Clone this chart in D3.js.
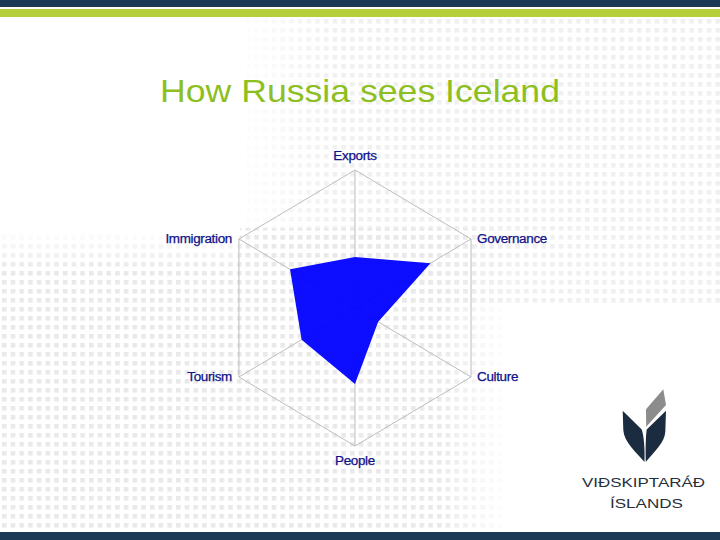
<!DOCTYPE html>
<html>
<head>
<meta charset="utf-8">
<script src="https://cdn.jsdelivr.net/npm/d3@7"></script>
<style>
  html, body { margin: 0; padding: 0; background: #ffffff; }
  svg { display: block; }
</style>
</head>
<body>
<script>
// ---- data ----
const title = "How Russia sees Iceland";
const axes = ["Exports", "Governance", "Culture", "People", "Tourism", "Immigration"];
const values = [0.37, 0.65, 0.20, 0.55, 0.46, 0.56];
const logoLine1 = "VIÐSKIPTARÁÐ";
const logoLine2 = "ÍSLANDS";

const W = 720, H = 540;
const svg = d3.select("body").append("svg").attr("width", W).attr("height", H);
const defs = svg.append("defs");

// dotted background pattern
const pat = defs.append("pattern").attr("id", "dots").attr("patternUnits", "userSpaceOnUse")
  .attr("x", 2).attr("y", 1).attr("width", 8.7).attr("height", 9);
pat.append("rect").attr("width", 4.6).attr("height", 4.6).attr("fill", "#e9e9e9");

function grad(id, x1, x2, y1, y2, stops) {
  const g = defs.append("linearGradient").attr("id", id).attr("gradientUnits", "userSpaceOnUse")
    .attr("x1", x1).attr("x2", x2).attr("y1", y1).attr("y2", y2);
  stops.forEach(s => g.append("stop").attr("offset", s[0]).attr("stop-color", "#fff").attr("stop-opacity", s[1]));
}
grad("gTop", 235, 340, 0, 0, [[0, 0], [1, 0.7]]);
grad("gBot", 0, 510, 0, 0, [[0, 1], [0.86, 1], [1, 0]]);
grad("gBotV", 0, 0, 228, 270, [[0, 0], [1, 1]]);

const m1 = defs.append("mask").attr("id", "m1");
m1.append("rect").attr("x", 235).attr("y", 17).attr("width", 485).attr("height", 288).attr("fill", "url(#gTop)");
const m2 = defs.append("mask").attr("id", "m2");
m2.append("rect").attr("x", 0).attr("y", 228).attr("width", 510).attr("height", 304).attr("fill", "url(#gBot)");
const m3 = defs.append("mask").attr("id", "m3");
m3.append("rect").attr("x", 0).attr("y", 228).attr("width", 240).attr("height", 67).attr("fill", "url(#gBotV)");

svg.append("rect").attr("width", W).attr("height", H).attr("fill", "url(#dots)").attr("mask", "url(#m1)");
svg.append("rect").attr("x", 240).attr("y", 0).attr("width", W - 240).attr("height", H).attr("fill", "url(#dots)").attr("mask", "url(#m2)");
svg.append("rect").attr("x", 0).attr("y", 295).attr("width", 240).attr("height", H).attr("fill", "url(#dots)").attr("mask", "url(#m2)");
svg.append("rect").attr("x", 0).attr("y", 0).attr("width", 240).attr("height", 295).attr("fill", "url(#dots)").attr("mask", "url(#m3)");

// header and footer bars
svg.append("rect").attr("x", 0).attr("y", 0).attr("width", W).attr("height", 7).attr("fill", "#1c3a56");
svg.append("rect").attr("x", 0).attr("y", 9).attr("width", W).attr("height", 8).attr("fill", "#b4cf3a");
svg.append("rect").attr("x", 0).attr("y", 532).attr("width", W).attr("height", 8).attr("fill", "#1c3a56");

// title
svg.append("text").attr("x", 160).attr("y", 102)
  .attr("font-family", "Liberation Sans, Arial, sans-serif").attr("font-size", 32)
  .attr("textLength", 400).attr("lengthAdjust", "spacingAndGlyphs")
  .attr("fill", "#8dbf22").text(title);

// ---- radar chart ----
const cx = 355, cy = 308;
const x = d3.scaleLinear().domain([-1, 1]).range([cx - 134, cx + 134]);
const y = d3.scaleLinear().domain([-1, 1]).range([cy + 138, cy - 138]);
const angle = d3.scaleLinear().domain([0, axes.length]).range([0, 2 * Math.PI]);
const pt = (i, r) => [x(r * Math.sin(angle(i))), y(r * Math.cos(angle(i)))];

const g = svg.append("g");
// grid hexagon
g.append("path")
  .attr("d", d3.line()(axes.map((a, i) => pt(i, 1))) + "Z")
  .attr("fill", "none").attr("stroke", "#bdbdbd").attr("stroke-width", 1);
// spokes
g.selectAll("line.spoke").data(axes).join("line").attr("class", "spoke")
  .attr("x1", x(0)).attr("y1", y(0))
  .attr("x2", (d, i) => pt(i, 1)[0]).attr("y2", (d, i) => pt(i, 1)[1])
  .attr("stroke", "#bdbdbd").attr("stroke-width", 1);

// data polygon
g.append("path")
  .attr("d", d3.line()(values.map((v, i) => pt(i, v))) + "Z")
  .attr("fill", "#0000ff").attr("fill-opacity", 0.95);

// axis labels
const lab = g.selectAll("text.lab").data(axes).join("text").attr("class", "lab")
  .attr("font-family", "Liberation Sans, Arial, sans-serif").attr("font-size", 12)
  .attr("letter-spacing", -0.3).attr("fill", "#12128a")
  .attr("stroke", "#12128a").attr("stroke-width", 0.25)
  .attr("text-anchor", (d, i) => {
    const s = Math.sin(angle(i));
    return Math.abs(s) < 0.01 ? "middle" : (s > 0 ? "start" : "end");
  })
  .attr("x", (d, i) => {
    const p = pt(i, 1), s = Math.sin(angle(i));
    return Math.abs(s) < 0.01 ? p[0] : p[0] + (s > 0 ? 6 : -7);
  })
  .attr("y", (d, i) => {
    const p = pt(i, 1), c = Math.cos(angle(i));
    if (c > 0.99) return p[1] - 10;
    if (c < -0.99) return p[1] + 19;
    return p[1] + 4;
  })
  .text(d => d);
lab.each(function() {
  const w = this.getComputedTextLength();
  d3.select(this).attr("textLength", w * 1.12).attr("lengthAdjust", "spacingAndGlyphs");
});

// ---- logo ----
const logo = svg.append("g");
logo.append("path").attr("d", "M622.7,410.7 L641.7,429.5 C644,436 645,450 644.5,462 C636,452 624,442 623.3,430 Z").attr("fill", "#1b2b40");
logo.append("path").attr("d", "M666,410.7 L646.7,429.5 C645.5,438 645.5,452 645.8,462 C654,452 665,442 665.3,431.7 Z").attr("fill", "#1b2b40");
logo.append("path").attr("d", "M646,409.3 L663.3,389.3 L666,405 L646.2,426.7 Z").attr("fill", "#8c8c8c");
logo.append("text").attr("x", 582).attr("y", 487)
  .attr("font-family", "Liberation Sans, Arial, sans-serif").attr("font-size", 13)
  .attr("textLength", 123).attr("lengthAdjust", "spacingAndGlyphs")
  .attr("fill", "#26303c").text(logoLine1);
logo.append("text").attr("x", 610).attr("y", 508)
  .attr("font-family", "Liberation Sans, Arial, sans-serif").attr("font-size", 13)
  .attr("textLength", 73).attr("lengthAdjust", "spacingAndGlyphs")
  .attr("fill", "#26303c").text(logoLine2);
</script>
</body>
</html>
